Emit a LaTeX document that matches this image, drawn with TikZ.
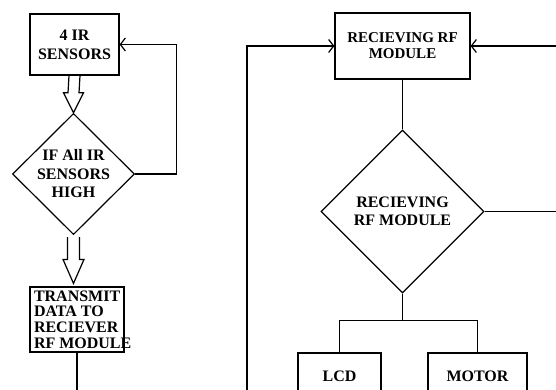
\documentclass[tikz,border=0pt]{standalone}
\usepackage{fontspec}
\setmainfont{Liberation Serif}
\usetikzlibrary{shapes.geometric,arrows.meta,calc}

\tikzset{
  box/.style={draw, line width=1.2pt, rectangle, inner sep=3pt, font=\bfseries\fontsize{16}{19}\selectfont, align=center},
  smallbox/.style={box, font=\bfseries\fontsize{15}{16}\selectfont},
  decision/.style={draw, line width=1.2pt, diamond, inner sep=0pt, font=\bfseries\fontsize{16}{18.5}\selectfont, align=center},
  line/.style={line width=1.2pt},
  arr/.style={line, -{Straight Barb[length=5pt,width=13pt,line width=1.2pt]}},
  hollow/.style={line width=1.2pt, line join=miter}
}

\begin{document}
\begin{tikzpicture}[x=1pt,y=1pt]
  \useasboundingbox (0,0) rectangle (556,-390);
  \clip (0,0) rectangle (556,-390);

  %Transmitter side
  \node[box, minimum width=89pt, minimum height=61pt] (sens) at (74.5,-44.5) {4 IR\\SENSORS};
  \node[decision, minimum width=122pt, minimum height=118pt] (check) at (73.5,-174) {IF All IR\\SENSORS\\HIGH};
  \node[box, font=\bfseries\fontsize{16}{15.8}\selectfont, text width=86pt, inner xsep=4pt, inner ysep=1pt,
    align=flush left, minimum height=65pt] (tx) at (77,-319.5)
    {TRANSMIT\\DATA TO\\RECIEVER\\\mbox{RF MODULE}};
  \coordinate (txend) at (tx.south |- 0,-395);

  %hollow arrows
  \draw[hollow] ($(sens.south)+(-5.5,0)$) -- ($(check.north)+(-5.5,20)$) -- ++(-4.5,0)
    -- (check.north) -- ++(10,20) -- ++(-4.5,0) -- ($(sens.south)+(5.5,0)$);
  \coordinate (tip) at (check.south |- tx.north);
  \draw[hollow] ($(check.south)+(-6,-2)$) -- ($(tip)+(-6,27)$) -- ++(-4.5,0)
    -- ($(tip)+(0,3)$) -- ++(10.5,24) -- ++(-4.5,0) -- ($(check.south)+(6,-2)$);

  \draw[arr] (check.east) -- ++(41,0) |- (sens.east);
  \draw[line] (tx.south) -- (txend);

  %Receiver side
  \node[smallbox, minimum width=135pt, minimum height=66pt] (rxbox) at (402.5,-46) {RECIEVING RF\\MODULE};
  \node[decision, minimum width=163pt, minimum height=163pt] (rxdia) at (402.5,-211.5) {RECIEVING\\RF MODULE};
  \node[box, minimum width=83pt, minimum height=46pt] (lcd) at (339.5,-376) {LCD};
  \node[box, minimum width=99pt, minimum height=46pt] (motor) at (477.5,-376) {MOTOR};

  \coordinate (lbot) at (247,-395);
  \coordinate (rtop) at (560,-46);
  \coordinate (rend) at (560,-211.5);

  \draw[arr] (lbot) |- (rxbox.west);
  \draw[arr] (rtop) -- (rxbox.east);
  \draw[line] (rxbox.south) -- (rxdia.north);
  \draw[line] (rxdia.east) -- (rend);
  \draw[line] (rxdia.south) -- ++(0,-27) -| (lcd.north);
  \draw[line] (rxdia.south) -- ++(0,-27) -| (motor.north);
\end{tikzpicture}
\end{document}
